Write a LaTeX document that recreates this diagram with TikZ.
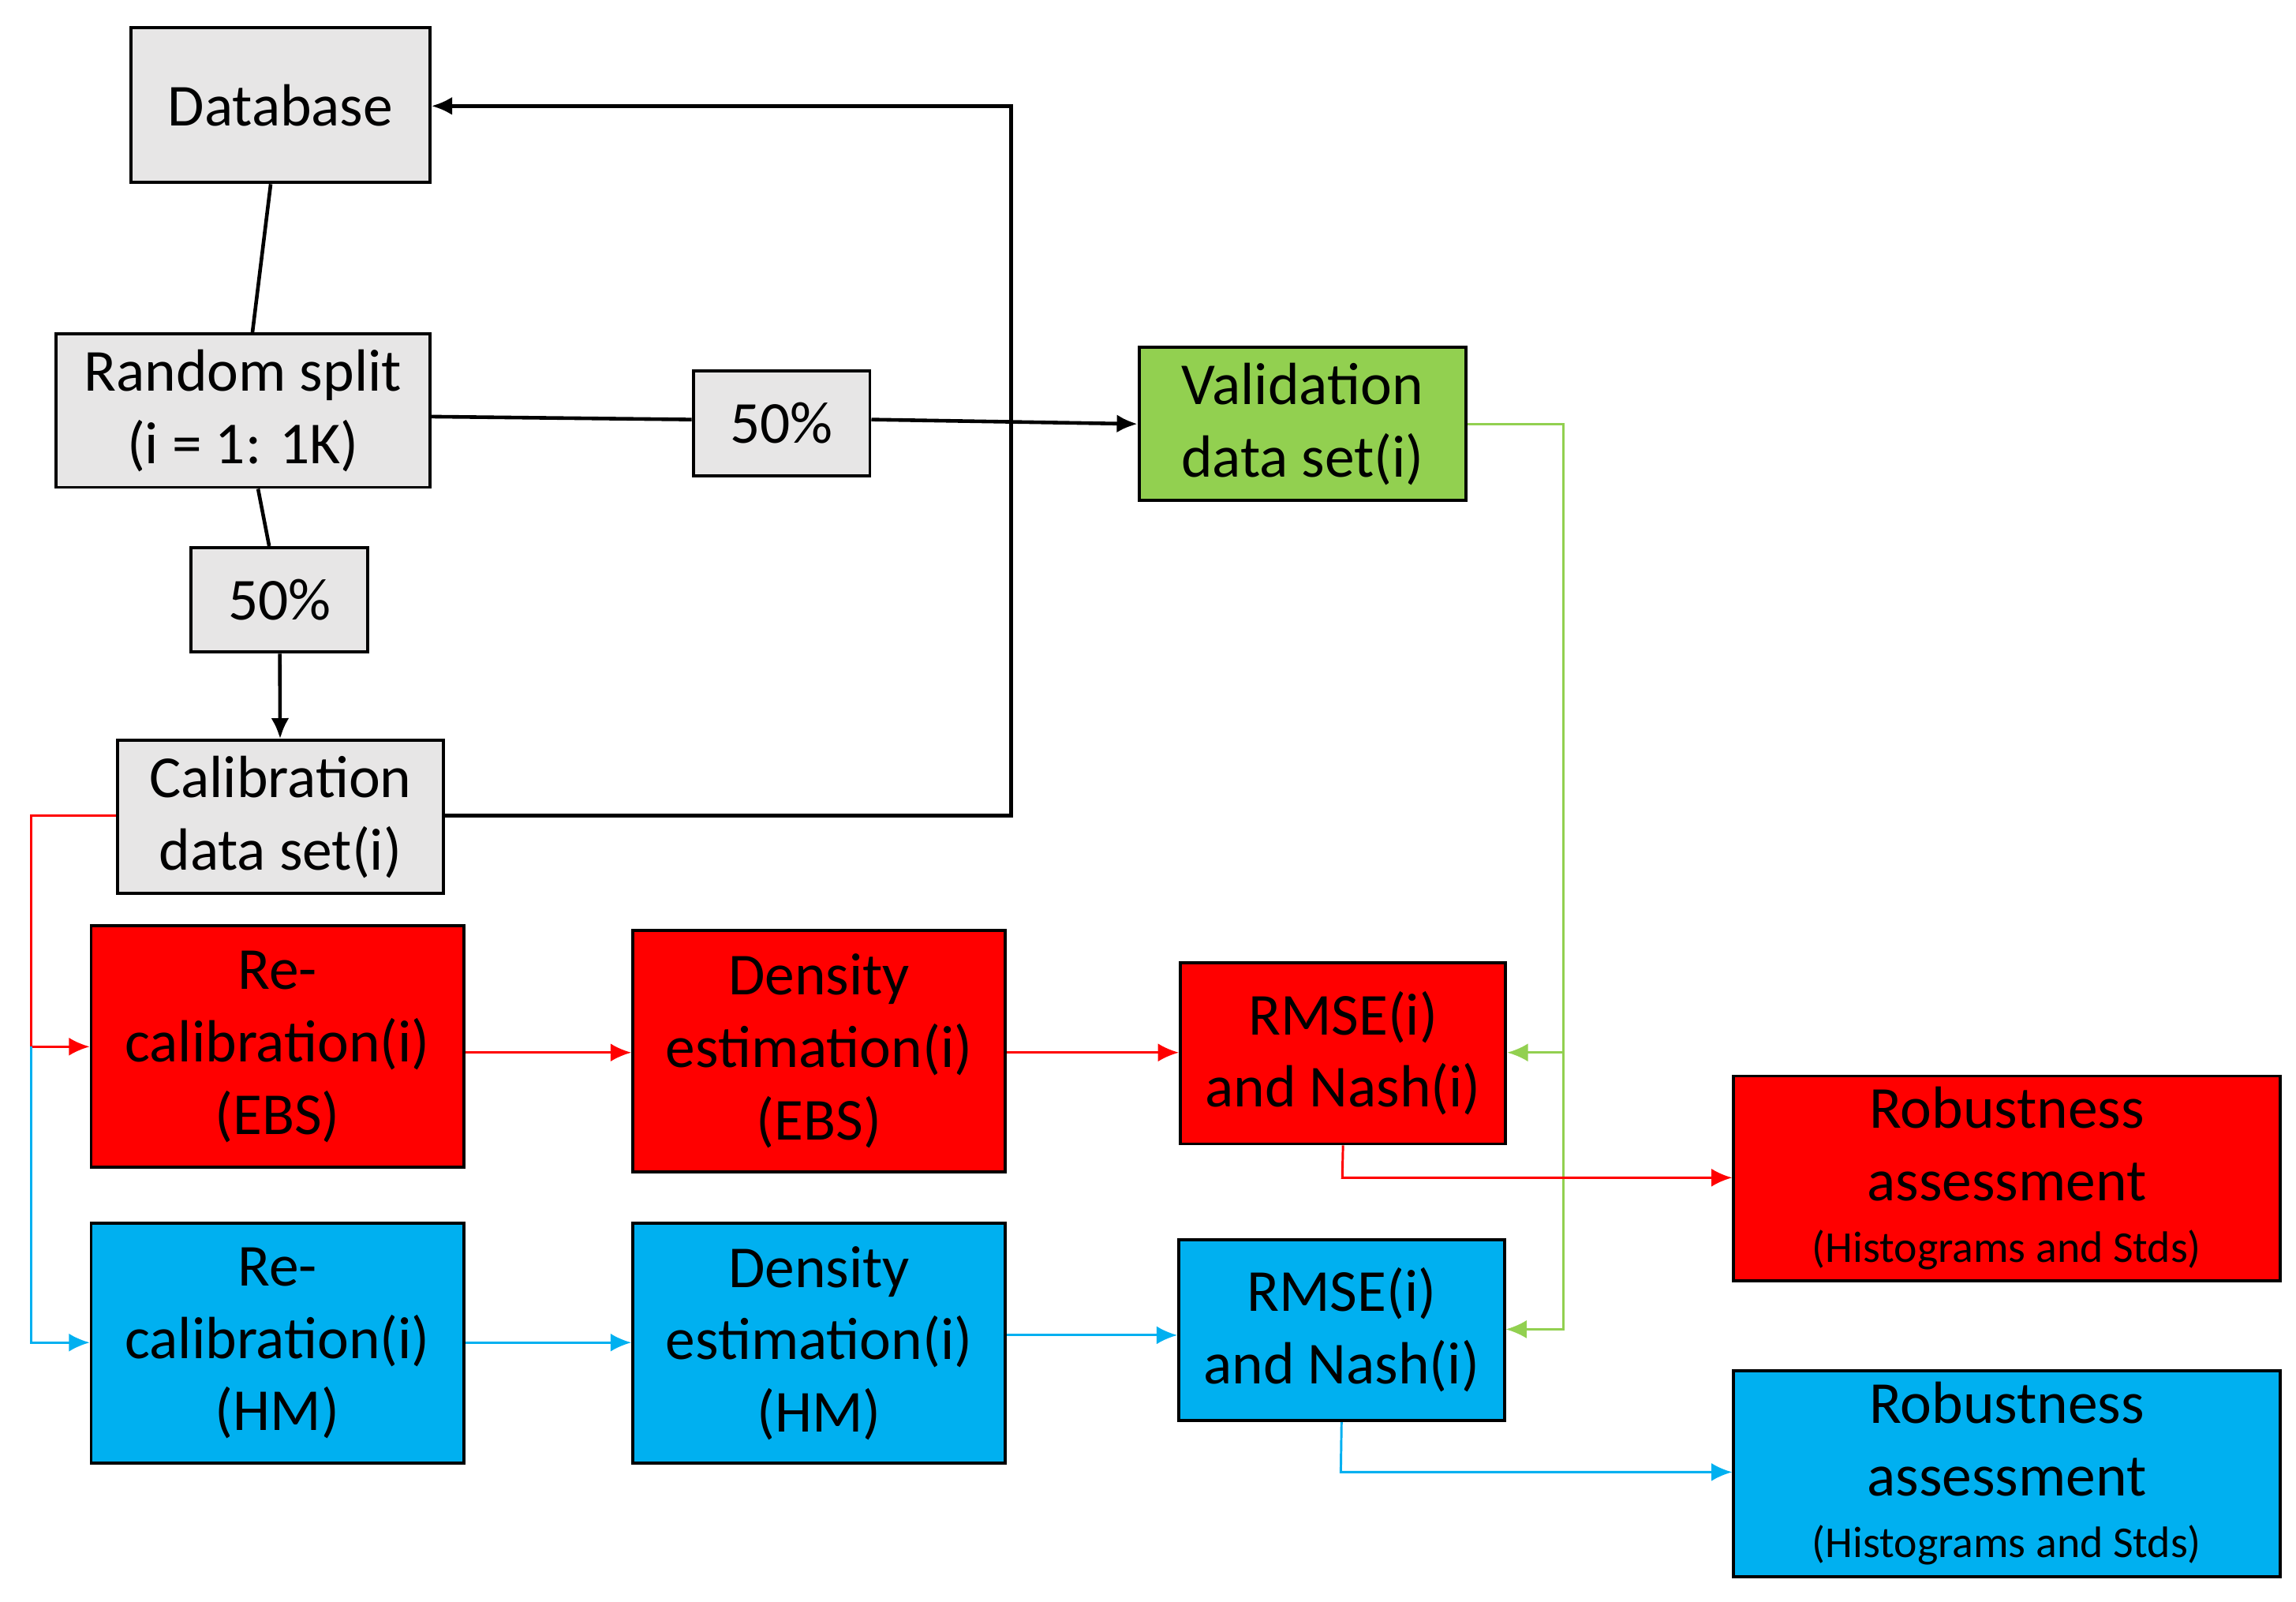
\documentclass[tikz,border=0pt]{standalone}
\usepackage{fontspec}
\setmainfont{Carlito}
\usetikzlibrary{arrows.meta}
\definecolor{gr}{HTML}{E7E6E6}
\definecolor{rd}{HTML}{FF0000}
\definecolor{bl}{HTML}{00B0F0}
\definecolor{gn}{HTML}{92D050}
\begin{document}
\begin{tikzpicture}[x=0.01cm,y=-0.01cm,
 box/.style={draw=black,line width=0.6pt,align=center,inner sep=1pt,font=\fontsize{11.5}{14}\selectfont},
 blk/.style={line width=0.7pt,black},
 ar/.style={-{Latex[length=4pt,width=3.5pt]}},
 cl/.style={line width=0.45pt}]
\useasboundingbox (0,0) rectangle (1560,1088);
\node[box,fill=gr,minimum width=2.03cm,minimum height=1.05cm] (db) at (190.5,71.5) {Database};
\node[box,fill=gr,minimum width=2.54cm,minimum height=1.04cm] (rs) at (165,279) {Random split\\(i = 1: 1K)};
\node[box,fill=gr,minimum width=1.2cm,minimum height=0.71cm] (p1) at (531,287.5) {50\%};
\node[box,fill=gn,minimum width=2.22cm,minimum height=1.04cm] (val) at (885,288) {Validation\\data set(i)};
\node[box,fill=gr,minimum width=1.2cm,minimum height=0.71cm] (p2) at (190,407.5) {50\%};
\node[box,fill=gr,minimum width=2.21cm,minimum height=1.04cm] (cal) at (190.5,555) {Calibration\\data set(i)};
\node[box,fill=rd,minimum width=2.53cm,minimum height=1.64cm] (re1) at (188.5,711) {Re-\\calibration(i)\\(EBS)};
\node[box,fill=rd,minimum width=2.53cm,minimum height=1.64cm] (de1) at (556.5,714) {Density\\estimation(i)\\(EBS)};
\node[box,fill=rd,minimum width=2.21cm,minimum height=1.23cm] (rm1) at (912.5,715.5) {RMSE(i)\\and Nash(i)};
\node[box,fill=rd,minimum width=3.71cm,minimum height=1.39cm] (ro1) at (1363.5,800.5) {Robustness\\assessment\\[-2pt]{\fontsize{8.5}{10}\selectfont(Histograms and Stds)}};
\node[box,fill=bl,minimum width=2.53cm,minimum height=1.63cm] (re2) at (188.5,912.5) {Re-\\calibration(i)\\(HM)};
\node[box,fill=bl,minimum width=2.53cm,minimum height=1.63cm] (de2) at (556.5,912.5) {Density\\estimation(i)\\(HM)};
\node[box,fill=bl,minimum width=2.21cm,minimum height=1.23cm] (rm2) at (911.5,903.5) {RMSE(i)\\and Nash(i)};
\node[box,fill=bl,minimum width=3.71cm,minimum height=1.4cm] (ro2) at (1363.5,1001) {Robustness\\assessment\\[-2pt]{\fontsize{8.5}{10}\selectfont(Histograms and Stds)}};
\coordinate (c1) at (687,554);
\coordinate (c2) at (687,72);
\coordinate (l1) at (21,554);
\coordinate (l2) at (21,711);
\coordinate (l3) at (21,912);
\coordinate (g1) at (1062,288);
\coordinate (g2) at (1062,715);
\coordinate (g3) at (1062,903);
\draw[blk] (db) -- (rs);
\draw[blk] (rs.east |- 0,283) -- (p1.west |- 0,285);
\draw[blk,ar] (p1.east |- 0,285) -- (val.west |- 0,288);
\draw[blk] (rs) -- (p2);
\draw[blk,ar] (p2) -- (cal);
\draw[blk,ar] (cal.east |- c1) -- (c1) -- (c2) -- (db.east |- c2);
\draw[cl,rd,ar] (cal.west |- l1) -- (l1) -- (l2) -- (re1.west |- l2);
\draw[cl,bl,ar] (l2) -- (l3) -- (re2.west |- l3);
\draw[cl,rd,ar] (re1.east |- 0,715) -- (de1.west |- 0,715);
\draw[cl,rd,ar] (de1.east |- 0,715) -- (rm1.west |- 0,715);
\draw[cl,bl,ar] (re2.east |- 0,912) -- (de2.west |- 0,912);
\draw[cl,bl,ar] (de2.east |- 0,907) -- (rm2.west |- 0,907);
\draw[cl,gn,ar] (val.east |- g1) -- (g1) -- (g3) -- (rm2.east |- g3);
\draw[cl,gn,ar] (g2) -- (rm1.east |- g2);
\draw[cl,rd,ar] (rm1.south) -- (912,800) -- (ro1.west |- 0,800);
\draw[cl,bl,ar] (rm2.south) -- (911,1000) -- (ro2.west |- 0,1000);
\end{tikzpicture}
\end{document}
